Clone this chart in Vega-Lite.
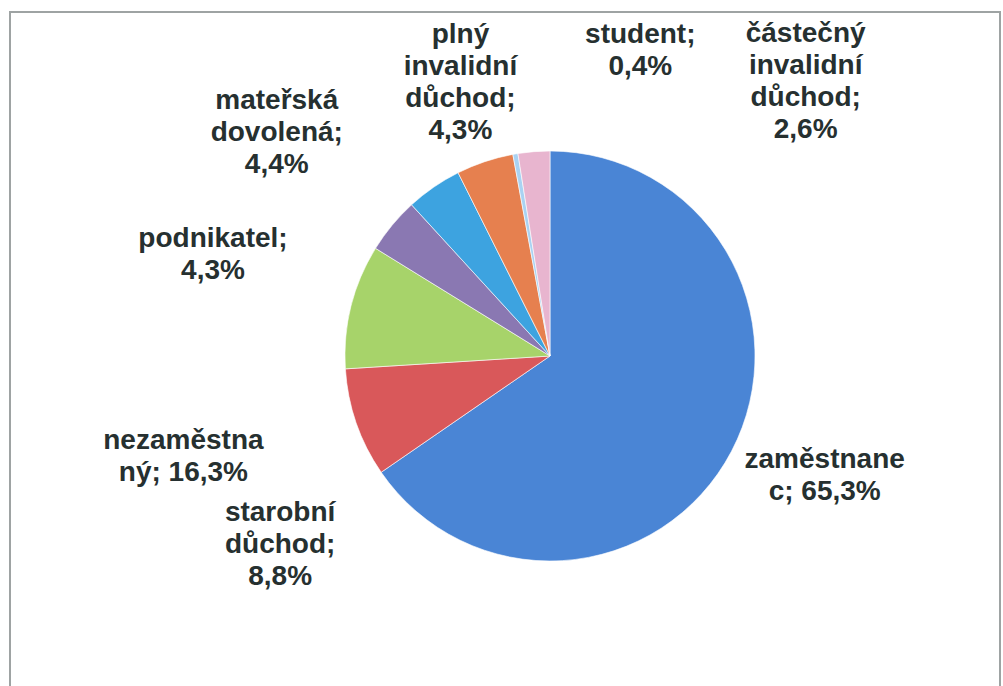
{
  "$schema": "https://vega.github.io/schema/vega-lite/v6.json",
  "width": 990,
  "height": 676,
  "autosize": {"type": "none"},
  "padding": {"left": 10, "top": 12, "right": 3, "bottom": 0},
  "background": "white",
  "config": {"view": {"stroke": "#9ea3a3", "strokeWidth": 2}},
  "data": {"values": [
    {"poradi": 1, "kategorie": "zaměstnanec", "podil": 65.4, "popisek": "zaměstnane\nc; 65,3%"},
    {"poradi": 2, "kategorie": "starobní důchod", "podil": 8.6, "popisek": "starobní\ndůchod;\n8,8%"},
    {"poradi": 3, "kategorie": "nezaměstnaný", "podil": 9.8, "popisek": "nezaměstna\nný; 16,3%"},
    {"poradi": 4, "kategorie": "podnikatel", "podil": 4.4, "popisek": "podnikatel;\n4,3%"},
    {"poradi": 5, "kategorie": "mateřská dovolená", "podil": 4.4, "popisek": "mateřská\ndovolená;\n4,4%"},
    {"poradi": 6, "kategorie": "plný invalidní důchod", "podil": 4.5, "popisek": "plný\ninvalidní\ndůchod;\n4,3%"},
    {"poradi": 7, "kategorie": "student", "podil": 0.4, "popisek": "student;\n0,4%"},
    {"poradi": 8, "kategorie": "částečný invalidní důchod", "podil": 2.5, "popisek": "částečný\ninvalidní\ndůchod;\n2,6%"}
  ]},
  "encoding": {
    "theta": {"field": "podil", "type": "quantitative", "stack": true},
    "order": {"field": "poradi", "type": "quantitative"},
    "detail": {"field": "kategorie", "type": "nominal"},
    "x": {"value": 540},
    "y": {"value": 344}
  },
  "layer": [
    {
      "mark": {"type": "arc", "outerRadius": 205, "stroke": "white", "strokeWidth": 0.6},
      "encoding": {
        "color": {
          "field": "kategorie", "type": "nominal", "legend": null,
          "scale": {
            "domain": ["zaměstnanec", "starobní důchod", "nezaměstnaný", "podnikatel", "mateřská dovolená", "plný invalidní důchod", "student", "částečný invalidní důchod"],
            "range": ["#4a85d5", "#d9585a", "#a7d36a", "#8a78b2", "#3da3e0", "#e6804f", "#a9d2f2", "#e8b5cf"]
          }
        }
      }
    },
    {
      "mark": {"type": "text", "font": "Liberation Sans", "fontWeight": "bold", "fontSize": 28, "lineHeight": 32, "lineBreak": "\n", "align": "center", "baseline": "middle", "fill": "#263030", "dx": 10, "dy": -35},
      "encoding": {"radius": {"value": 299}, "text": {"condition": {"test": "datum.poradi === 1", "field": "popisek", "type": "nominal"}, "value": ""}}
    },
    {
      "mark": {"type": "text", "font": "Liberation Sans", "fontWeight": "bold", "fontSize": 28, "lineHeight": 32, "lineBreak": "\n", "align": "center", "baseline": "middle", "fill": "#263030", "dx": 42, "dy": 49},
      "encoding": {"radius": {"value": 330}, "text": {"condition": {"test": "datum.poradi === 2", "field": "popisek", "type": "nominal"}, "value": ""}}
    },
    {
      "mark": {"type": "text", "font": "Liberation Sans", "fontWeight": "bold", "fontSize": 28, "lineHeight": 32, "lineBreak": "\n", "align": "center", "baseline": "middle", "fill": "#263030", "dx": 4, "dy": 178},
      "encoding": {"radius": {"value": 382}, "text": {"condition": {"test": "datum.poradi === 3", "field": "popisek", "type": "nominal"}, "value": ""}}
    },
    {
      "mark": {"type": "text", "font": "Liberation Sans", "fontWeight": "bold", "fontSize": 28, "lineHeight": 32, "lineBreak": "\n", "align": "center", "baseline": "middle", "fill": "#263030", "dx": -65, "dy": 108},
      "encoding": {"radius": {"value": 353}, "text": {"condition": {"test": "datum.poradi === 4", "field": "popisek", "type": "nominal"}, "value": ""}}
    },
    {
      "mark": {"type": "text", "font": "Liberation Sans", "fontWeight": "bold", "fontSize": 28, "lineHeight": 32, "lineBreak": "\n", "align": "center", "baseline": "middle", "fill": "#263030", "dx": -73, "dy": 36},
      "encoding": {"radius": {"value": 353}, "text": {"condition": {"test": "datum.poradi === 5", "field": "popisek", "type": "nominal"}, "value": ""}}
    },
    {
      "mark": {"type": "text", "font": "Liberation Sans", "fontWeight": "bold", "fontSize": 28, "lineHeight": 32, "lineBreak": "\n", "align": "center", "baseline": "middle", "fill": "#263030", "dx": 2, "dy": -48},
      "encoding": {"radius": {"value": 288}, "text": {"condition": {"test": "datum.poradi === 6", "field": "popisek", "type": "nominal"}, "value": ""}}
    },
    {
      "mark": {"type": "text", "font": "Liberation Sans", "fontWeight": "bold", "fontSize": 28, "lineHeight": 32, "lineBreak": "\n", "align": "center", "baseline": "middle", "fill": "#263030", "dx": 144, "dy": -8},
      "encoding": {"radius": {"value": 318}, "text": {"condition": {"test": "datum.poradi === 7", "field": "popisek", "type": "nominal"}, "value": ""}}
    },
    {
      "mark": {"type": "text", "font": "Liberation Sans", "fontWeight": "bold", "fontSize": 28, "lineHeight": 32, "lineBreak": "\n", "align": "center", "baseline": "middle", "fill": "#263030", "dx": 285, "dy": 51},
      "encoding": {"radius": {"value": 374}, "text": {"condition": {"test": "datum.poradi === 8", "field": "popisek", "type": "nominal"}, "value": ""}}
    }
  ]
}
